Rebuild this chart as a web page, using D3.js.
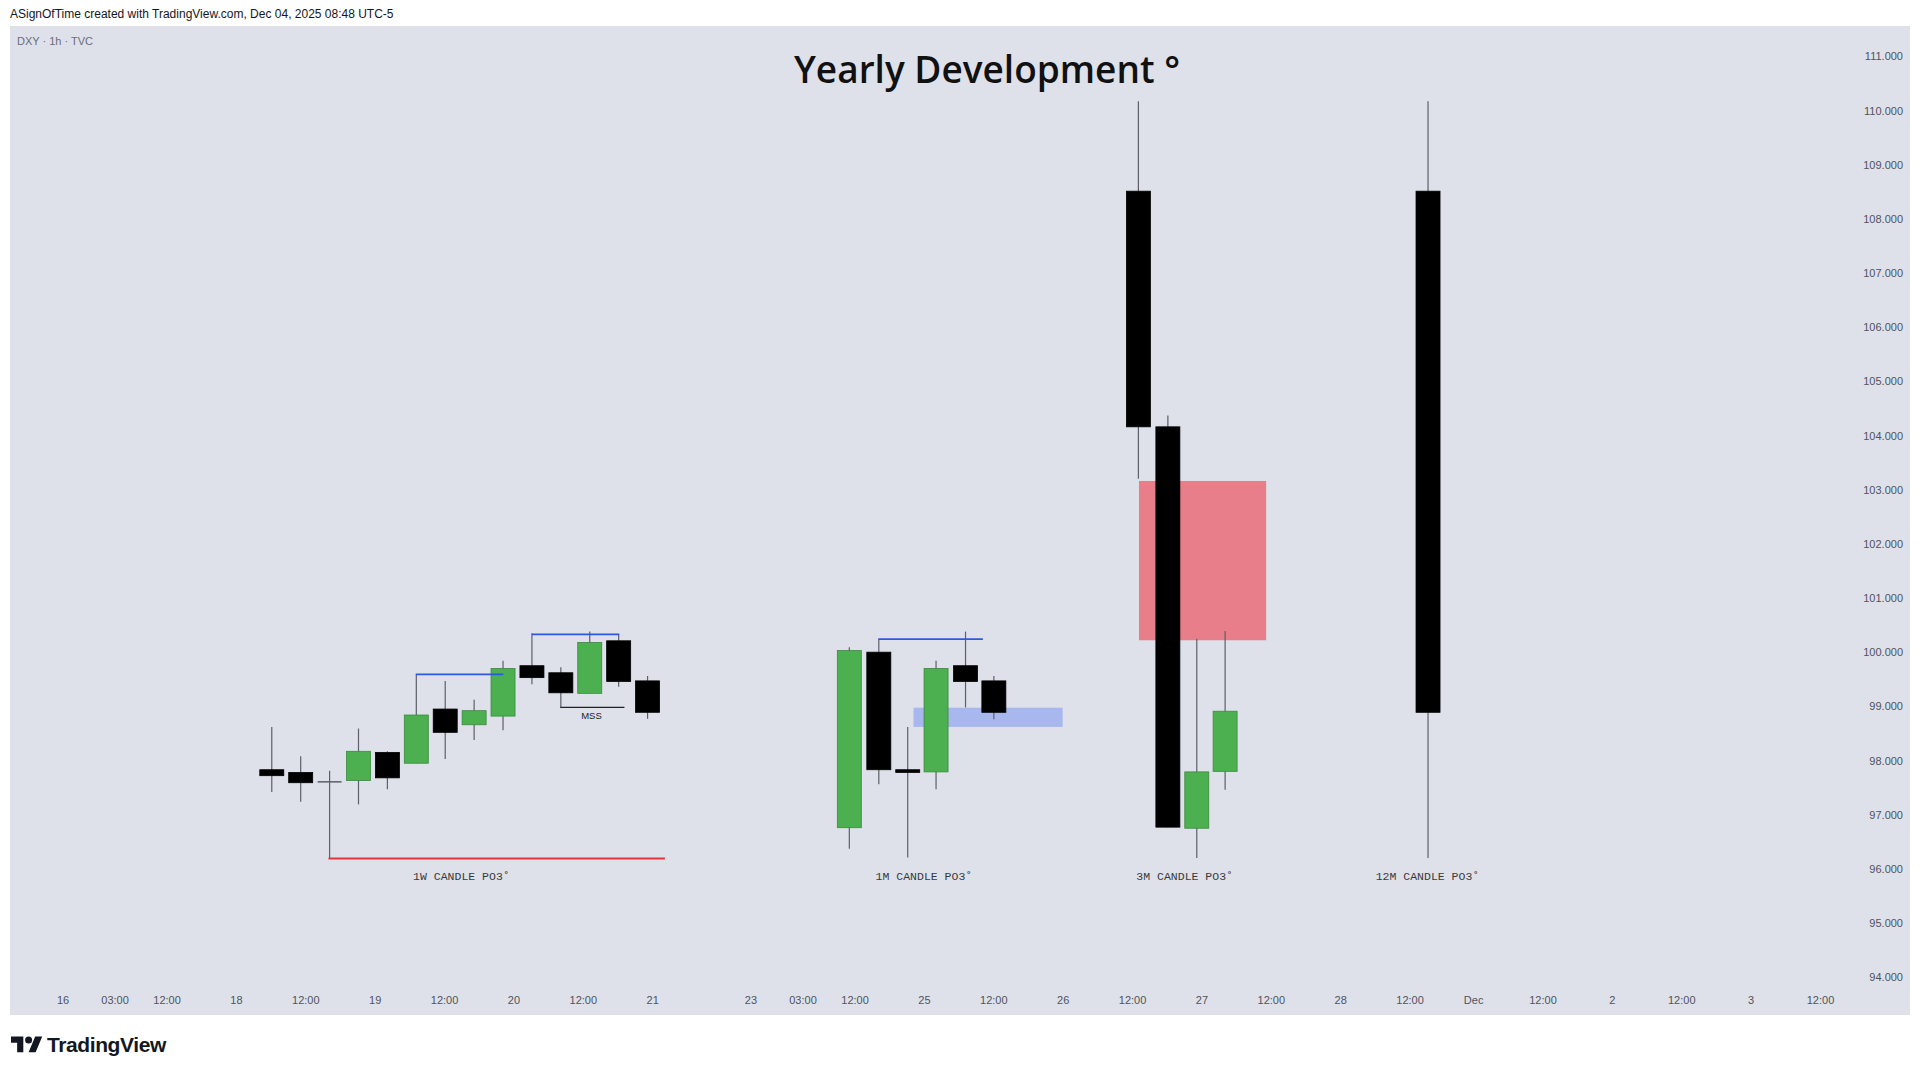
<!DOCTYPE html>
<html>
<head>
<meta charset="utf-8">
<script src="https://cdn.jsdelivr.net/npm/d3@7"></script>
<style>
    body { margin: 0; background: #ffffff; }
</style>
</head>
<body>
<div class="yearly-chart"></div>
<script>
var width = 1920
var height = 1075

// time axis: trading hours counted from Sun 16 Nov 18:00 (weekend gaps removed)
var timeTickHours = [0, 9, 18, 30, 42, 54, 66, 78, 90, 102, 119, 128, 137, 149, 161, 173, 185, 197, 209, 221, 233, 244, 256, 268, 280, 292, 304]
var timeTickLabels = ['16', '03:00', '12:00', '18', '12:00', '19', '12:00', '20', '12:00', '21', '23', '03:00', '12:00', '25', '12:00', '26', '12:00', '27', '12:00', '28', '12:00', 'Dec', '12:00', '2', '12:00', '3', '12:00']
var priceTicks = [94, 95, 96, 97, 98, 99, 100, 101, 102, 103, 104, 105, 106, 107, 108, 109, 110, 111]

// candles: h = position on time axis, o/hi/lo/c = prices
var weeklyCandles = [
    { h: 36.2, o: 97.83, hi: 98.62, lo: 97.42, c: 97.72 },
    { h: 41.2, o: 97.78, hi: 98.08, lo: 97.24, c: 97.59 },
    { h: 46.2, o: 97.62, hi: 97.81, lo: 96.19, c: 97.62 },
    { h: 51.2, o: 97.63, hi: 98.59, lo: 97.19, c: 98.17 },
    { h: 56.2, o: 98.15, hi: 98.17, lo: 97.47, c: 97.68 },
    { h: 61.2, o: 97.95, hi: 99.59, lo: 97.95, c: 98.84 },
    { h: 66.2, o: 98.95, hi: 99.47, lo: 98.03, c: 98.52 },
    { h: 71.2, o: 98.66, hi: 99.12, lo: 98.38, c: 98.92 },
    { h: 76.2, o: 98.82, hi: 99.84, lo: 98.56, c: 99.70 },
    { h: 81.2, o: 99.75, hi: 100.35, lo: 99.41, c: 99.53 },
    { h: 86.2, o: 99.62, hi: 99.72, lo: 98.98, c: 99.25 },
    { h: 91.2, o: 99.24, hi: 100.38, lo: 99.24, c: 100.18 },
    { h: 96.2, o: 100.21, hi: 100.33, lo: 99.36, c: 99.46 },
    { h: 101.2, o: 99.47, hi: 99.56, lo: 98.77, c: 98.89 }
]

var monthlyCandles = [
    { h: 136.1, o: 96.76, hi: 100.09, lo: 96.37, c: 100.03 },
    { h: 141.2, o: 100.00, hi: 100.24, lo: 97.56, c: 97.83 },
    { h: 146.2, o: 97.83, hi: 98.62, lo: 96.21, c: 97.78 },
    { h: 151.1, o: 97.79, hi: 99.84, lo: 97.47, c: 99.70 },
    { h: 156.2, o: 99.75, hi: 100.38, lo: 98.98, c: 99.46 },
    { h: 161.1, o: 99.47, hi: 99.56, lo: 98.76, c: 98.89 }
]

var quarterlyCandles = [
    { h: 186.1, o: 108.51, hi: 110.17, lo: 103.20, c: 104.16 },
    { h: 191.2, o: 104.16, hi: 104.37, lo: 96.77, c: 96.77 },
    { h: 196.2, o: 96.75, hi: 100.25, lo: 96.20, c: 97.79 },
    { h: 201.1, o: 97.80, hi: 100.39, lo: 97.46, c: 98.91 }
]

var yearlyCandles = [
    { h: 236.2, o: 108.51, hi: 110.17, lo: 96.20, c: 98.89 }
]

var groupLabels = [
    { text: '1W CANDLE PO3˚', h: 69.0, p: 95.87 },
    { text: '1M CANDLE PO3˚', h: 149.0, p: 95.87 },
    { text: '3M CANDLE PO3˚', h: 194.1, p: 95.87 },
    { text: '12M CANDLE PO3˚', h: 236.1, p: 95.87 }
]

// drawn levels and zones
var lowLines = [{ p: 96.19, h0: 46.0, h1: 104.2 }]
var highLines = [
    { p: 99.59, h0: 61.1, h1: 76.25 },
    { p: 100.33, h0: 81.2, h1: 96.3 },
    { p: 100.24, h0: 141.1, h1: 159.2 }
]
var mssLines = [{ p: 98.98, h0: 86.1, h1: 97.2, text: 'MSS', th: 91.5, tp: 98.82 }]
var zones = [
    { p0: 98.62, p1: 98.975, h0: 147.2, h1: 173.0, fill: '#a8b8ef' },
    { p0: 100.22, p1: 103.16, h0: 186.2, h1: 208.2, fill: '#e97e8b' }
]

function drawChart() {
    var svg = d3.select('.yearly-chart').append('svg')
        .attr('width', width)
        .attr('height', height)

    svg.append('rect').attr('width', width).attr('height', height).attr('fill', '#ffffff')

    // chart panel
    svg.append('rect')
        .attr('x', 10).attr('y', 26)
        .attr('width', 1900).attr('height', 989)
        .attr('fill', '#dee1e9')

    var x = d3.scaleLinear().domain([0, 304]).range([62.5, 1820])
    var y = d3.scaleLinear().domain([94, 111]).range([977.2, 56.3])

    // header
    svg.append('text')
        .attr('x', 10).attr('y', 18)
        .attr('font-family', 'Liberation Sans, Arial, sans-serif')
        .attr('font-size', 12)
        .attr('fill', '#131722')
        .text('ASignOfTime created with TradingView.com, Dec 04, 2025 08:48 UTC-5')

    svg.append('text')
        .attr('x', 17).attr('y', 45)
        .attr('font-family', 'Liberation Sans, Arial, sans-serif')
        .attr('font-size', 11)
        .attr('fill', '#6a6d78')
        .text('DXY · 1h · TVC')

    svg.append('text')
        .attr('x', 987).attr('y', 83)
        .attr('text-anchor', 'middle')
        .attr('font-family', 'Open Sans, sans-serif')
        .attr('font-weight', 600)
        .attr('font-size', 37)
        .attr('fill', '#111111')
        .text('Yearly Development °')

    // price axis
    var yAxis = svg.append('g')
        .attr('transform', 'translate(1903,0)')
        .call(d3.axisLeft(y).tickValues(priceTicks).tickSize(0).tickPadding(0).tickFormat(d3.format('.3f')))
    yAxis.select('.domain').remove()
    yAxis.selectAll('text')
        .attr('font-family', 'Liberation Sans, Arial, sans-serif')
        .attr('font-size', 11)
        .attr('fill', '#50535e')

    // time axis
    var xAxis = svg.append('g')
        .attr('transform', 'translate(0,996)')
        .call(d3.axisBottom(x).tickValues(timeTickHours).tickSize(0).tickPadding(0)
            .tickFormat(function (d, i) { return timeTickLabels[i] }))
    xAxis.select('.domain').remove()
    xAxis.selectAll('text')
        .attr('font-family', 'Liberation Sans, Arial, sans-serif')
        .attr('font-size', 11)
        .attr('fill', '#50535e')

    // zones under the candles
    svg.selectAll('rect.zone')
        .data(zones)
        .enter()
        .append('rect')
        .attr('class', 'zone')
        .attr('x', function (d) { return x(d.h0) })
        .attr('y', function (d) { return y(d.p1) })
        .attr('width', function (d) { return x(d.h1) - x(d.h0) })
        .attr('height', function (d) { return y(d.p0) - y(d.p1) })
        .attr('fill', function (d) { return d.fill })

    var candles = weeklyCandles.concat(monthlyCandles, quarterlyCandles, yearlyCandles)
    var bodyW = 24

    svg.selectAll('line.wick')
        .data(candles)
        .enter()
        .append('line')
        .attr('class', 'wick')
        .attr('x1', function (d) { return x(d.h) })
        .attr('x2', function (d) { return x(d.h) })
        .attr('y1', function (d) { return y(d.hi) })
        .attr('y2', function (d) { return y(d.lo) })
        .attr('stroke', '#5d606b')
        .attr('stroke-width', 1.2)

    svg.selectAll('rect.body')
        .data(candles)
        .enter()
        .append('rect')
        .attr('class', 'body')
        .attr('x', function (d) { return x(d.h) - bodyW / 2 })
        .attr('y', function (d) { return y(Math.max(d.o, d.c)) })
        .attr('width', bodyW)
        .attr('height', function (d) { return Math.max(1.5, Math.abs(y(d.o) - y(d.c))) })
        .attr('fill', function (d) {
            if (d.o === d.c) return '#5d606b'
            return d.c > d.o ? '#4caf50' : '#000000'
        })
        .attr('stroke', function (d) {
            if (d.o === d.c) return 'none'
            return d.c > d.o ? '#3b8a3e' : '#000000'
        })
        .attr('stroke-width', 0.8)

    // level lines
    svg.selectAll('line.low')
        .data(lowLines)
        .enter()
        .append('line')
        .attr('x1', function (d) { return x(d.h0) })
        .attr('x2', function (d) { return x(d.h1) })
        .attr('y1', function (d) { return y(d.p) })
        .attr('y2', function (d) { return y(d.p) })
        .attr('stroke', '#e8323c')
        .attr('stroke-width', 2)

    svg.selectAll('line.high')
        .data(highLines)
        .enter()
        .append('line')
        .attr('x1', function (d) { return x(d.h0) })
        .attr('x2', function (d) { return x(d.h1) })
        .attr('y1', function (d) { return y(d.p) })
        .attr('y2', function (d) { return y(d.p) })
        .attr('stroke', '#2a5bdc')
        .attr('stroke-width', 1.8)

    svg.selectAll('line.mss')
        .data(mssLines)
        .enter()
        .append('line')
        .attr('x1', function (d) { return x(d.h0) })
        .attr('x2', function (d) { return x(d.h1) })
        .attr('y1', function (d) { return y(d.p) })
        .attr('y2', function (d) { return y(d.p) })
        .attr('stroke', '#222222')
        .attr('stroke-width', 1.2)

    svg.selectAll('text.mss')
        .data(mssLines)
        .enter()
        .append('text')
        .attr('x', function (d) { return x(d.th) })
        .attr('y', function (d) { return y(d.tp) })
        .attr('dy', '0.35em')
        .attr('text-anchor', 'middle')
        .attr('font-family', 'Liberation Sans, Arial, sans-serif')
        .attr('font-size', 9.5)
        .attr('fill', '#222222')
        .text(function (d) { return d.text })

    svg.selectAll('text.group')
        .data(groupLabels)
        .enter()
        .append('text')
        .attr('x', function (d) { return x(d.h) })
        .attr('y', function (d) { return y(d.p) })
        .attr('dy', '0.35em')
        .attr('text-anchor', 'middle')
        .attr('font-family', 'Liberation Mono, Courier New, monospace')
        .attr('font-size', 11.5)
        .attr('fill', '#3a3a3a')
        .text(function (d) { return d.text })

    // TradingView logo
    var logo = svg.append('g').attr('transform', 'translate(11,1033) scale(0.88)').attr('fill', '#131722')
    logo.append('path').attr('d', 'M14 22H7V11H0V4h14v18zM28 22h-8l7.5-18h8L28 22z')
    logo.append('circle').attr('cx', 20).attr('cy', 8).attr('r', 4)

    svg.append('text')
        .attr('x', 47).attr('y', 1052)
        .attr('font-family', 'Liberation Sans, Arial, sans-serif')
        .attr('font-weight', 700)
        .attr('font-size', 21)
        .attr('letter-spacing', -0.4)
        .attr('fill', '#131722')
        .text('TradingView')
}

drawChart()
</script>
</body>
</html>
